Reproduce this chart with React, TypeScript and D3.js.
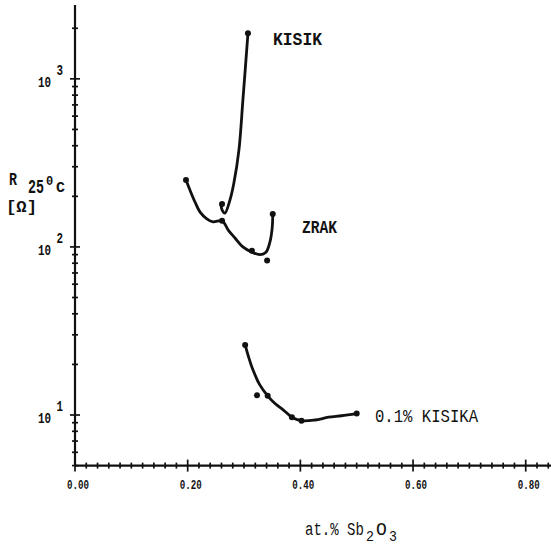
import React from 'react';
import * as d3 from 'd3';

const W = 551;
const H = 545;

// Series "KISIK" (oxygen)
const kisikCurveX = [0.307, 0.298, 0.291, 0.282, 0.275, 0.266, 0.261, 0.259];
const kisikCurveY = [1870, 747, 378, 240, 190, 159, 166, 180];
const kisikPointX = [0.307, 0.261];
const kisikPointY = [1870, 180];

// Series "ZRAK" (air)
const zrakCurveX = [0.197, 0.204, 0.213, 0.222, 0.234, 0.245, 0.261, 0.272, 0.284, 0.298, 0.314, 0.328, 0.339, 0.346, 0.35, 0.351];
const zrakCurveY = [250, 218, 185, 161, 147, 141, 143, 126, 113, 100, 93, 90, 93, 107, 130, 155];
const zrakPointX = [0.197, 0.261, 0.314, 0.351, 0.341];
const zrakPointY = [250, 143, 95, 157, 83];

// Series "0.1% KISIKA"
const k01CurveX = [0.302, 0.308, 0.316, 0.328, 0.342, 0.355, 0.37, 0.385, 0.402, 0.426, 0.45, 0.473, 0.5];
const k01CurveY = [26.1, 22.2, 18.5, 15.1, 13.0, 11.7, 10.7, 9.7, 9.25, 9.34, 9.7, 9.9, 10.2];
const k01PointX = [0.302, 0.323, 0.342, 0.385, 0.402, 0.5];
const k01PointY = [26.1, 13.1, 13.0, 9.7, 9.25, 10.2];

const xTickValues = [0, 0.2, 0.4, 0.6, 0.8];
const xTickLabels = ['0.00', '0.20', '0.40', '0.60', '0.80'];
const yDecades = [10, 100, 1000];
const yDecadeExp = ['1', '2', '3'];

const seriesLabels = ['KISIK', 'ZRAK', '0.1% KISIKA'];

const FONT = '"Liberation Mono", "DejaVu Sans Mono", monospace';

export default function App() {
  const x = d3.scaleLinear().domain([0, 0.85]).range([75, 75 + 0.85 * 563.4]);
  const y = d3.scaleLog().domain([5, 2750]).range([465.6, 5]);

  const line = d3
    .line<[number, number]>()
    .x((d) => x(d[0]))
    .y((d) => y(d[1]))
    .curve(d3.curveCatmullRom.alpha(0.5));

  const zip = (a: number[], b: number[]) => a.map((v, i) => [v, b[i]] as [number, number]);

  const curves = [
    zip(kisikCurveX, kisikCurveY),
    zip(zrakCurveX, zrakCurveY),
    zip(k01CurveX, k01CurveY),
  ];
  const points = [
    ...zip(kisikPointX, kisikPointY),
    ...zip(zrakPointX, zrakPointY),
    ...zip(k01PointX, k01PointY),
  ];

  const x0 = x(0);
  const yBase = y(5);

  const xMinor = d3.range(0, 43).map((i) => i * 0.02).filter((v) => v <= 0.85);
  const yMinor: number[] = [];
  [1, 10, 100, 1000].forEach((dec) => {
    for (let m = 1; m <= 9; m++) {
      const v = dec * m;
      if (v >= 5 && v <= 2750) yMinor.push(v);
    }
  });

  const ink = '#111';

  const T = (props: any) => (
    <text
      fontFamily={FONT}
      fontWeight="bold"
      lengthAdjust="spacingAndGlyphs"
      fill={ink}
      {...props}
    />
  );

  // text condensed horizontally by a transform
  const S = ({ x: tx, y: ty, sx, children, ...rest }: any) => (
    <text
      transform={`translate(${tx},${ty}) scale(${sx},1)`}
      fontFamily={FONT}
      fontWeight="bold"
      fill={ink}
      {...rest}
    >
      {children}
    </text>
  );

  return (
    <svg
      width={W}
      height={H}
      viewBox={`0 0 ${W} ${H}`}
      style={{ position: 'absolute', left: 0, top: 0, background: '#fff' }}
    >
      <rect x={0} y={0} width={W} height={H} fill="#fff" />

      {/* axes */}
      <line x1={x0} y1={y(2750)} x2={x0} y2={yBase} stroke={ink} strokeWidth={2.2} />
      <line x1={x0} y1={yBase} x2={x(0.85)} y2={yBase} stroke={ink} strokeWidth={2.2} />

      {xMinor.map((v, i) => {
        const major = Math.abs(v / 0.2 - Math.round(v / 0.2)) < 1e-6;
        const h = major ? 6 : 3;
        return (
          <line key={'xm' + i} x1={x(v)} x2={x(v)} y1={yBase - h} y2={yBase + h} stroke={ink} strokeWidth={1.7} />
        );
      })}
      {yMinor.map((v, i) => {
        const major = yDecades.includes(v);
        const h = major ? 5 : 3;
        return (
          <line key={'ym' + i} x1={x0 - h} x2={x0 + h} y1={y(v)} y2={y(v)} stroke={ink} strokeWidth={1.7} />
        );
      })}

      {/* x tick labels */}
      {xTickValues.map((v, i) => (
        <T key={'xt' + i} x={x(v) + 3 - 11} y={489} fontSize={13} textLength={22}>
          {xTickLabels[i]}
        </T>
      ))}

      {/* y tick labels: 10 with superscript exponent */}
      {yDecades.map((v, i) => (
        <T key={'yt' + i} x={38} y={y(v) + 8} fontSize={14} textLength={25}>
          <tspan>10</tspan>
          <tspan dx={7} dy={-12}>{yDecadeExp[i]}</tspan>
        </T>
      ))}

      {/* y axis title */}
      <T x={9} y={185} fontSize={18} textLength={8}>
        R
      </T>
      <S x={28} y={193} sx={0.635} fontSize={21}>25</S>
      <S x={46} y={185} sx={1} fontSize={12}>0</S>
      <S x={56} y={192} sx={1} fontSize={15}>C</S>
      <T x={6} y={212} fontSize={17} textLength={31}>
        [Ω]
      </T>

      {/* x axis title */}
      <S x={305} y={535} sx={0.78} fontSize={18} fontWeight="normal">at.% Sb</S>
      <S x={366} y={541} sx={0.95} fontSize={14} fontWeight="normal">2</S>
      <S x={376} y={535} sx={1} fontSize={18} fontWeight="normal">O</S>
      <S x={389} y={541} sx={0.95} fontSize={14} fontWeight="normal">3</S>

      {/* curves */}
      {curves.map((c, i) => (
        <path key={'c' + i} d={line(c) || ''} fill="none" stroke={ink} strokeWidth={2.8} strokeLinecap="round" strokeLinejoin="round" />
      ))}
      {points.map((p, i) => (
        <circle key={'p' + i} cx={x(p[0])} cy={y(p[1])} r={3} fill={ink} />
      ))}

      {/* series labels */}
      <T x={273} y={45} fontSize={18} textLength={49}>
        {seriesLabels[0]}
      </T>
      <T x={302} y={233} fontSize={19} textLength={35}>
        {seriesLabels[1]}
      </T>
      <T x={375} y={422} fontSize={18} fontWeight="normal" textLength={103}>
        {seriesLabels[2]}
      </T>
    </svg>
  );
}
